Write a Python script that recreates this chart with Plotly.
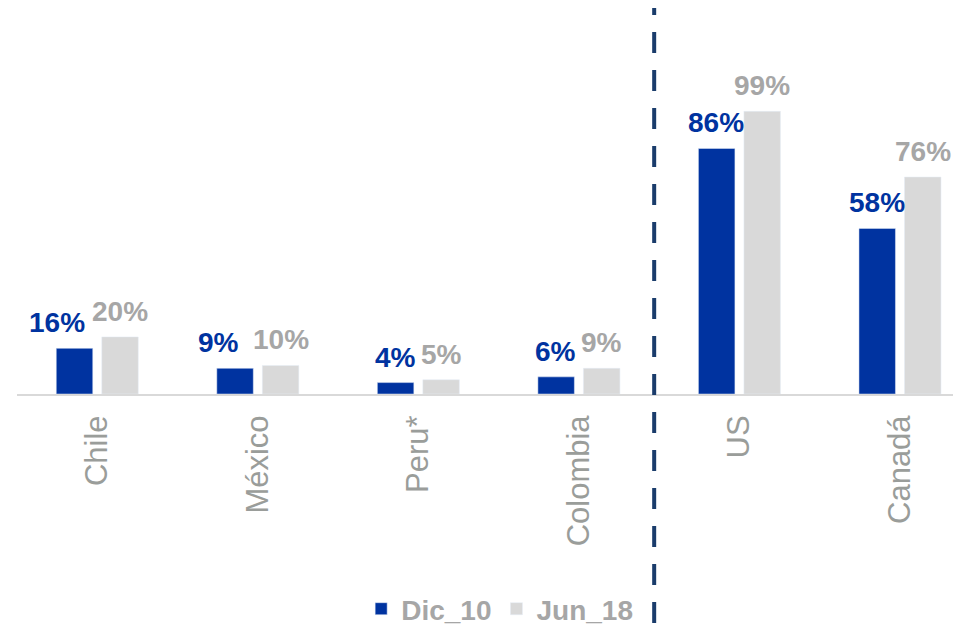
import plotly.graph_objects as go

categories = ["Chile", "México", "Peru*", "Colombia", "US", "Canadá"]
dic_10 = [16, 9, 4, 6, 86, 58]
jun_18 = [20, 10, 5, 9, 99, 76]
series_names = ["Dic_10", "Jun_18"]

BLUE = "#0033A0"
LIGHT = "#D9D9D9"
LABEL_GRAY = "#A6A6A6"
TICK_GRAY = "#9A9D9A"
NAVY = "#1A3C6B"
FONT = "Liberation Sans"

fig = go.Figure()
fig.add_trace(go.Bar(x=categories, y=dic_10, name=series_names[0], marker_color=BLUE))
fig.add_trace(go.Bar(x=categories, y=jun_18, name=series_names[1], marker_color=LIGHT))

# value labels as annotations above each bar
label_nudge_dic = {"Chile": -17, "México": -16}
for c, v in zip(categories, dic_10):
    fig.add_annotation(x=c, y=v, text=f"<b>{v}%</b>", showarrow=False,
                       xshift=-23 + label_nudge_dic.get(c, 0), yshift=8, yanchor="bottom",
                       font=dict(family=FONT, size=28, color=BLUE))
for c, v in zip(categories, jun_18):
    fig.add_annotation(x=c, y=v, text=f"<b>{v}%</b>", showarrow=False,
                       xshift=23, yshift=8, yanchor="bottom",
                       font=dict(family=FONT, size=28, color=LABEL_GRAY))

# dashed separator between LatAm and North America
fig.add_shape(type="line", xref="x", yref="paper", x0=3.469, x1=3.469, y0=-0.593, y1=1.0,
              line=dict(color=NAVY, width=4, dash="21px,17px"))

fig.update_layout(
    width=961, height=626,
    margin=dict(l=9, r=0, t=0, b=238),
    paper_bgcolor="white", plot_bgcolor="white",
    barmode="group", bargap=0.433, bargroupgap=0.198,
    font=dict(family=FONT),
    showlegend=True,
    legend=dict(orientation="h", x=0.507, xanchor="center", y=-0.557, yanchor="middle",
                font=dict(family=FONT, size=28, color=LABEL_GRAY, weight="bold"),
                tracegroupgap=0),
)
fig.update_xaxes(range=[-0.5, 5.43], showline=True, linecolor=LIGHT, linewidth=2,
                 showgrid=False, tickangle=-90, ticks="", ticklabelstandoff=7,
                 tickfont=dict(family=FONT, size=31, color=TICK_GRAY))
fig.update_yaxes(range=[0, 135.2], visible=False, showgrid=False, zeroline=False)

fig.write_html("out.html")
